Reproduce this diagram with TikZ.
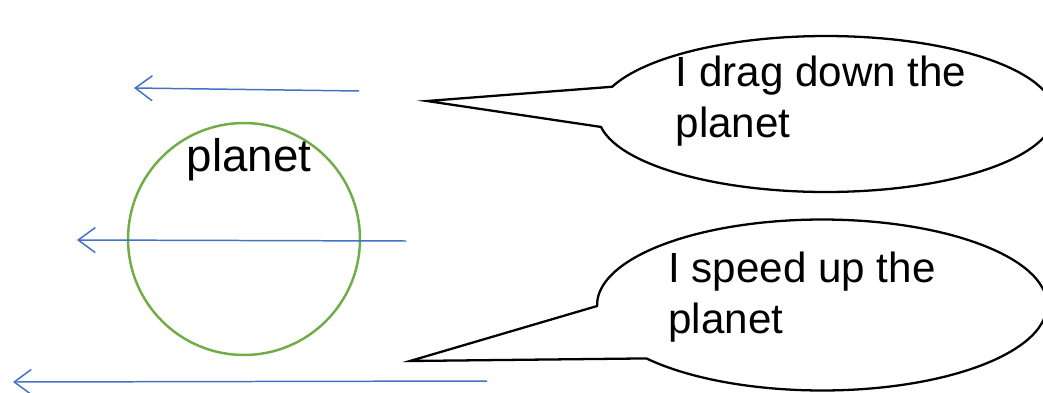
\documentclass[tikz,border=0pt]{standalone}
\usepackage{fontspec}
\setmainfont{Liberation Sans}
\usepackage{tikz}
\usetikzlibrary{positioning, shapes.callouts, arrows.meta}

\definecolor{arrowblue}{RGB}{68,114,196}
\definecolor{planetgreen}{RGB}{112,173,71}

% text inside a bubble, nudged by (#1,#2) without changing its size
\newcommand{\bubbletext}[3]{\raisebox{#2}[\height][\depth]{\kern#1\begin{tabular}{@{}l@{}}#3\end{tabular}\kern-#1}}

\begin{document}
\begin{tikzpicture}[
    x=0.02cm, y=-0.02cm,
    push/.style={-{Straight Barb[length=0.34cm,width=0.5cm]}, draw=arrowblue, line width=0.85pt},
    planetnode/.style={circle, draw=planetgreen, line width=1.4pt, minimum size=4.64cm, inner sep=0pt},
    bubble/.style={ellipse callout, draw, line width=1.3pt, inner sep=0pt,
        minimum width=9.13cm, minimum height=3.12cm, font=\fontsize{24}{28.5}\selectfont}
]
\useasboundingbox (0,0) rectangle (1043,392);

% Planet
\node[planetnode] (planet) at (244,239) {};
\node[font=\fontsize{26}{30}\selectfont] (plabel) at (249,160) {planet};

% Arrows
\coordinate (a1s) at (359,91);
\coordinate (a1e) at (134,88);
\coordinate (a2s) at (406,241);
\coordinate (a2e) at (77,240);
\coordinate (a3s) at (487,381);
\coordinate (a3e) at (13,382);
\draw[push] (a1s) -- (a1e);
\draw[push] (a2s) -- (a2e);
\draw[push] (a3s) -- (a3e);

% Speech bubbles
\coordinate (tip1) at (427,101);
\coordinate (tip2) at (410,361);
\node[bubble, callout absolute pointer=(tip1), callout pointer arc=30] (drag) at (826,114)
    {\bubbletext{-0.1cm}{0.24cm}{I drag down the\\planet}};
\node[bubble, minimum width=9cm, minimum height=3.42cm,
    callout absolute pointer=(tip2), callout pointer arc=38] (speed) at (822,305)
    {\bubbletext{-0.4cm}{0.14cm}{I speed up the\\planet}};

\end{tikzpicture}
\end{document}
